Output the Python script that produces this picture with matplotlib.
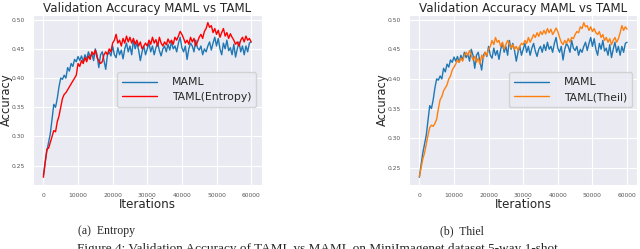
import matplotlib
matplotlib.use("Agg")
import matplotlib.pyplot as plt
import seaborn as sns

# iteration grid and accuracy curves
iters = list(range(0, 60001, 500))

maml = [0.234, 0.255, 0.275, 0.29, 0.305, 0.33, 0.355, 0.35, 0.365, 0.385,
        0.40, 0.398, 0.405, 0.40, 0.418, 0.412, 0.425, 0.42, 0.432, 0.428,
        0.437, 0.43, 0.438, 0.428, 0.44, 0.432, 0.445, 0.436, 0.442, 0.43,
        0.45, 0.44, 0.418, 0.44, 0.445, 0.43, 0.415, 0.44, 0.445, 0.438,
        0.455, 0.44, 0.435, 0.452, 0.44, 0.448, 0.433, 0.45, 0.46, 0.445,
        0.455, 0.44, 0.465, 0.45, 0.46, 0.448, 0.43, 0.445, 0.455, 0.44,
        0.45, 0.46, 0.445, 0.455, 0.44, 0.452, 0.46, 0.447, 0.438, 0.45,
        0.455, 0.445, 0.458, 0.448, 0.462, 0.45, 0.455, 0.445, 0.46, 0.47,
        0.452, 0.445, 0.455, 0.432, 0.45, 0.46, 0.455, 0.445, 0.465, 0.452,
        0.448, 0.455, 0.44, 0.45, 0.445, 0.455, 0.462, 0.448, 0.46, 0.47,
        0.455, 0.468, 0.45, 0.44, 0.46, 0.45, 0.465, 0.447, 0.452, 0.44,
        0.458, 0.436, 0.45, 0.462, 0.445, 0.455, 0.44, 0.455, 0.445, 0.46,
        0.462]

taml_entropy = [0.23, 0.255, 0.278, 0.28, 0.29, 0.30, 0.31, 0.308, 0.325, 0.335,
                0.35, 0.365, 0.372, 0.375, 0.38, 0.385, 0.39, 0.395, 0.40, 0.405,
                0.425, 0.42, 0.43, 0.425, 0.435, 0.428, 0.438, 0.432, 0.445, 0.44,
                0.448, 0.435, 0.43, 0.425, 0.428, 0.44, 0.445, 0.44, 0.45, 0.445,
                0.46, 0.465, 0.475, 0.46, 0.465, 0.455, 0.468, 0.46, 0.472, 0.462,
                0.47, 0.46, 0.468, 0.458, 0.465, 0.455, 0.462, 0.45, 0.455, 0.46,
                0.455, 0.465, 0.458, 0.47, 0.46, 0.466, 0.455, 0.47, 0.46, 0.455,
                0.462, 0.457, 0.467, 0.46, 0.465, 0.458, 0.47, 0.465, 0.472, 0.48,
                0.475, 0.468, 0.46, 0.465, 0.458, 0.47, 0.462, 0.468, 0.455, 0.462,
                0.47, 0.475, 0.468, 0.48, 0.485, 0.495, 0.487, 0.49, 0.478, 0.485,
                0.475, 0.482, 0.47, 0.478, 0.485, 0.472, 0.478, 0.468, 0.476, 0.47,
                0.465, 0.458, 0.462, 0.455, 0.465, 0.47, 0.462, 0.472, 0.465, 0.468,
                0.462]

taml_theil = [0.235, 0.25, 0.265, 0.275, 0.29, 0.305, 0.318, 0.322, 0.32, 0.325,
              0.332, 0.35, 0.365, 0.37, 0.38, 0.385, 0.39, 0.40, 0.405, 0.415,
              0.42, 0.425, 0.432, 0.428, 0.435, 0.43, 0.44, 0.445, 0.44, 0.448,
              0.44, 0.432, 0.438, 0.428, 0.435, 0.425, 0.44, 0.435, 0.445, 0.44,
              0.45, 0.455, 0.465, 0.458, 0.47, 0.462, 0.465, 0.455, 0.462, 0.45,
              0.458, 0.465, 0.46, 0.452, 0.458, 0.45, 0.455, 0.448, 0.455, 0.46,
              0.458, 0.465, 0.46, 0.47, 0.462, 0.468, 0.475, 0.47, 0.478, 0.472,
              0.48, 0.475, 0.482, 0.476, 0.485, 0.478, 0.484, 0.475, 0.48, 0.486,
              0.48, 0.47, 0.462, 0.458, 0.465, 0.46, 0.468, 0.462, 0.47, 0.468,
              0.475, 0.48, 0.478, 0.488, 0.485, 0.495, 0.488, 0.49, 0.482, 0.488,
              0.48, 0.485, 0.478, 0.475, 0.48, 0.47, 0.475, 0.465, 0.47, 0.462,
              0.468, 0.458, 0.465, 0.47, 0.462, 0.468, 0.478, 0.49, 0.482, 0.488,
              0.484]

yticks = [0.25, 0.30, 0.35, 0.40, 0.45, 0.50]
xticks = [0, 10000, 20000, 30000, 40000, 50000, 60000]

sns.set_style("darkgrid")
plt.rcParams['font.family'] = ['DejaVu Sans']

fig = plt.figure(figsize=(6.4, 2.49), dpi=100)

panels = [
    (0.0516, taml_entropy, "TAML(Entropy)", "red", "(a)  Entropy", 107),
    (0.639, taml_theil, "TAML(Theil)", "#ff7f0e", "(b)  Thiel", 462),
]

for left, taml, label, col, sub, sub_x in panels:
    ax = fig.add_axes([left, 0.257, 0.357, 0.683])
    ax.plot(iters, maml, color="#1f77b4", lw=1.0, label="MAML")
    ax.plot(iters, taml, color=col, lw=1.0, label=label)
    ax.set_yticks(yticks)
    ax.set_xticks(xticks)
    ax.tick_params(labelsize=4.3, labelcolor="#555555", pad=2.5)
    ax.set_title("Validation Accuracy MAML vs TAML", fontsize=8.6, pad=2)
    ax.set_xlabel("Iterations", fontsize=8.6, labelpad=0)
    ax.set_ylabel("Accuracy", fontsize=8.3)
    ax.yaxis.set_label_coords(-0.088, 0.5)
    ax.legend(loc="center right", bbox_to_anchor=(1.0, 0.56), fontsize=7.8,
              handlelength=3.2, handletextpad=1.4, borderpad=0.45, labelspacing=0.45)
    fig.text(sub_x / 640, 1 - 231 / 249, sub, ha="center", va="center",
             fontsize=8.5, family="Liberation Serif")

fig.text(77 / 640, 1 - 243 / 249, "Figure 4: Validation Accuracy of TAML vs MAML on MiniImagenet dataset 5-way 1-shot",
         ha="left", va="top", fontsize=9.5, family="Liberation Serif")

fig.savefig("out.png", dpi=100)
